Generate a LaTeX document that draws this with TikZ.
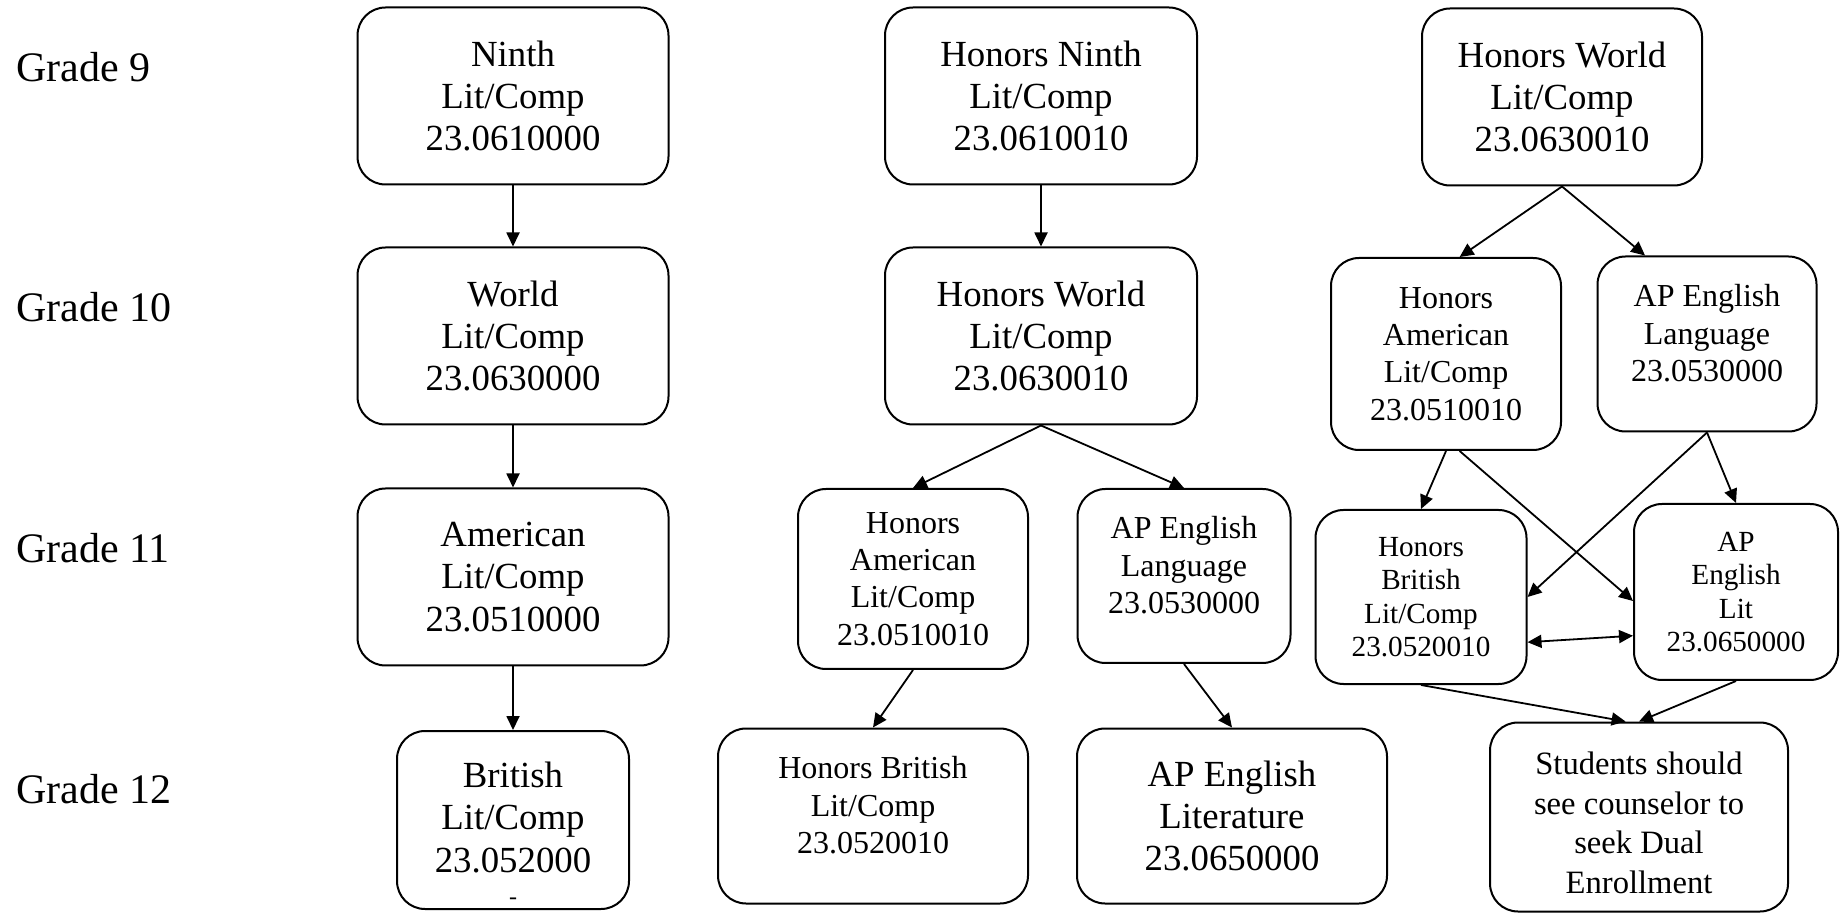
\documentclass[tikz,border=0pt]{standalone}
\usepackage{fontspec}
\setmainfont{Liberation Serif}
\usepackage{tikz}
\usetikzlibrary{arrows.meta,positioning}

\begin{document}
\begin{tikzpicture}[x=0.5pt,y=-0.5pt]
\tikzset{course/.style={draw,line width=1pt,rounded corners=14pt,align=center,inner sep=2pt}}
\tikzset{bigbox/.style={course,font=\fontsize{18.4}{21.2}\selectfont}}
\tikzset{midbox/.style={course,font=\fontsize{16}{18.6}\selectfont}}
\tikzset{smallbox/.style={course,font=\fontsize{14.6}{16.7}\selectfont}}
\tikzset{gradelabel/.style={anchor=base west,inner sep=0pt,font=\fontsize{21}{24}\selectfont}}
\tikzset{link/.style={-{Triangle[length=7pt,width=6.5pt]},line width=0.9pt}}
\tikzset{twolink/.style={{Triangle[length=7pt,width=6.5pt]}-{Triangle[length=7pt,width=6.5pt]},line width=0.9pt}}
\useasboundingbox (0,0) rectangle (1846,913);
% grade rows
\node[gradelabel] (g9) at (16,82) {Grade 9};
\node[gradelabel] (g10) at (16,322) {Grade 10};
\node[gradelabel] (g11) at (16,563) {Grade 11};
\node[gradelabel] (g12) at (16,803) {Grade 12};
% regular track
\node[bigbox,minimum width=155.5pt,minimum height=88.5pt] (ninth) at (513,96) {Ninth\\Lit/Comp\\23.0610000};
\node[bigbox,minimum width=155.5pt,minimum height=88.5pt] (world) at (513,336) {World\\Lit/Comp\\23.0630000};
\node[bigbox,minimum width=155.5pt,minimum height=88.5pt] (american) at (513,577) {American\\Lit/Comp\\23.0510000};
\node[bigbox,minimum width=116pt,minimum height=89pt] (british) at (513,820) {\rule{0pt}{26pt}British\\Lit/Comp\\23.052000\\[-5pt]{\fontsize{12}{12}\selectfont -}};
% honors track
\node[bigbox,minimum width=156pt,minimum height=88.5pt] (hninth) at (1041,96) {Honors Ninth\\Lit/Comp\\23.0610010};
\node[bigbox,minimum width=156pt,minimum height=88.5pt] (hworld) at (1041,336) {Honors World\\Lit/Comp\\23.0630010};
\node[midbox,minimum width=115pt,minimum height=90pt] (hamer) at (913,579) {Honors\\American\\Lit/Comp\\23.0510010};
\node[midbox,minimum width=106.5pt,minimum height=87pt,text depth=11pt] (aplang) at (1184,576) {AP English\\Language\\23.0530000};
\node[midbox,minimum width=155pt,minimum height=87.5pt,text depth=11pt] (hbrit) at (873,816) {Honors British\\Lit/Comp\\23.0520010};
\node[bigbox,minimum width=155pt,minimum height=87.5pt] (aplit) at (1232,816) {AP English\\Literature\\23.0650000};
% starting in honors world
\node[bigbox,minimum width=140pt,minimum height=88.5pt] (hworldB) at (1562,97) {Honors World\\Lit/Comp\\23.0630010};
\node[midbox,minimum width=115pt,minimum height=96pt] (hamerB) at (1446,354) {Honors\\American\\Lit/Comp\\23.0510010};
\node[midbox,minimum width=109.5pt,minimum height=87.5pt,text depth=11pt] (aplangB) at (1707,344) {AP English\\Language\\23.0530000};
\node[smallbox,minimum width=105.5pt,minimum height=87pt] (hbritB) at (1421,597) {Honors\\British\\Lit/Comp\\23.0520010};
\node[smallbox,minimum width=102pt,minimum height=88pt] (aplitB) at (1736,592) {AP\\English\\Lit\\23.0650000};
\node[course,font=\fontsize{16.3}{19.8}\selectfont,minimum width=149pt,minimum height=94.5pt] (students) at (1639,817) {\rule{0pt}{17pt}Students should\\see counselor to\\seek Dual\\Enrollment};
% connectors
\draw[link] (ninth) -- (world);
\draw[link] (world) -- (american);
\draw[link] (american) -- (british);
\draw[link] (hninth) -- (hworld);
\draw[link] (hworld.south) -- (hamer.north);
\draw[link] (hworld.south) -- (aplang.north);
\draw[link] (hamer.south) -- (hbrit.north);
\draw[link] (aplang.south) -- (aplit.north);
\draw[link] (hworldB.south) -- (hamerB.82);
\draw[link] (hworldB.south) -- (aplangB.125);
\draw[link] (hamerB.south) -- (hbritB.north);
\draw[link] (hamerB.278) -- (aplitB.185);
\draw[link] (aplangB.south) -- (aplitB.north);
\draw[link] (aplangB.south) -- (hbritB.east);
\draw[twolink] (hbritB.337) -- (aplitB.203);
\draw[link] (hbritB.south) -- (students.98);
\draw[link] (aplitB.south) -- (students.north);
\end{tikzpicture}
\end{document}
